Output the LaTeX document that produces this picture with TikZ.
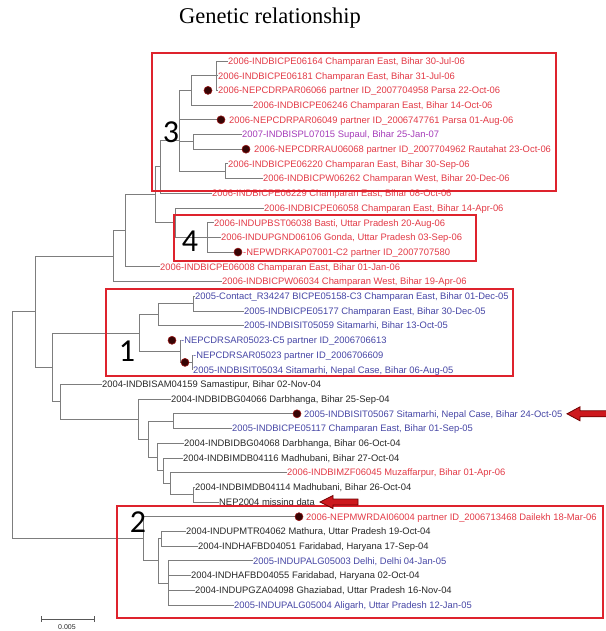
\documentclass[tikz,border=0pt]{standalone}
\usepackage{fontspec}
\usetikzlibrary{calc}
\setmainfont{Liberation Serif}
\newfontfamily\lblfont{Liberation Sans}
\newfontfamily\bignumfont{Carlito}
\definecolor{txr}{RGB}{226,58,70}
\definecolor{txb}{RGB}{70,70,165}
\definecolor{txp}{RGB}{165,60,185}
\definecolor{txk}{RGB}{40,40,40}
\definecolor{treegray}{RGB}{125,125,125}
\definecolor{boxred}{RGB}{222,35,45}
\definecolor{dotc}{RGB}{55,5,5}
\definecolor{dotr}{RGB}{150,20,20}
\definecolor{arrfill}{RGB}{205,25,30}
\definecolor{arrline}{RGB}{110,0,0}
\begin{document}
\begin{tikzpicture}[x=1pt,y=-1pt,
  br/.style={draw=treegray,line width=0.8pt},
  lbl/.style={anchor=west,inner sep=0pt,text height=6.7pt,text depth=0pt,font={\lblfont\fontsize{9.4}{11}\selectfont}},
  lr/.style={lbl,text=txr},
  lb/.style={lbl,text=txb},
  lp/.style={lbl,text=txp},
  lk/.style={lbl,text=txk},
  dotm/.style={circle,fill=dotc,draw=dotr,line width=0.6pt,minimum size=8pt,inner sep=0pt},
  cbox/.style={draw=boxred,line width=2pt},
  cnum/.style={font={\bignumfont\fontsize{32}{32}\selectfont},text=black,inner sep=0pt},
  redarrow/.style={fill=arrfill,draw=arrline,line width=0.8pt,line join=miter},
  sbar/.style={draw=treegray!70!black,line width=0.8pt}]
\useasboundingbox (0,0) rectangle (605,631);

% title
\node[font={\fontsize{22.5}{24}\selectfont}] (title) at (270,18) {Genetic relationship};

% leaves
\node[lr] (L1) at (228,61) {2006-INDBICPE06164 Champaran East, Bihar 30-Jul-06};
\node[lr] (L2) at (218,75.7) {2006-INDBICPE06181 Champaran East, Bihar 31-Jul-06};
\node[lr] (L3) at (218,90.4) {2006-NEPCDRPAR06066 partner ID\_2007704958 Parsa 22-Oct-06};
\node[lr] (L4) at (253,105.1) {2006-INDBICPE06246 Champaran East, Bihar 14-Oct-06};
\node[lr] (L5) at (229,119.8) {2006-NEPCDRPAR06049 partner ID\_2006747761 Parsa 01-Aug-06};
\node[lp] (L6) at (242,134.5) {2007-INDBISPL07015 Supaul, Bihar 25-Jan-07};
\node[lr] (L7) at (254,149.2) {2006-NEPCDRRAU06068 partner ID\_2007704962 Rautahat 23-Oct-06};
\node[lr] (L8) at (228,163.9) {2006-INDBICPE06220 Champaran East, Bihar 30-Sep-06};
\node[lr] (L9) at (263,178.6) {2006-INDBICPW06262 Champaran West, Bihar 20-Dec-06};
\node[lr] (L10) at (212,193.3) {2006-INDBICPE06229 Champaran East, Bihar 08-Oct-06};
\node[lr] (L11) at (264,208) {2006-INDBICPE06058 Champaran East, Bihar 14-Apr-06};
\node[lr] (L12) at (214,222.7) {2006-INDUPBST06038 Basti, Uttar Pradesh 20-Aug-06};
\node[lr] (L13) at (221,237.4) {2006-INDUPGND06106 Gonda, Uttar Pradesh 03-Sep-06};
\node[lr] (L14) at (243,252.1) {-NEPWDRKAP07001-C2 partner ID\_2007707580};
\node[lr] (L15) at (160,266.8) {2006-INDBICPE06008 Champaran East, Bihar 01-Jan-06};
\node[lr] (L16) at (222,281.5) {2006-INDBICPW06034 Champaran West, Bihar 19-Apr-06};
\node[lb] (L17) at (195,296.2) {2005-Contact\_R34247 BICPE05158-C3 Champaran East, Bihar 01-Dec-05};
\node[lb] (L18) at (244,310.9) {2005-INDBICPE05177 Champaran East, Bihar 30-Dec-05};
\node[lb] (L19) at (244,325.6) {2005-INDBISIT05059 Sitamarhi, Bihar 13-Oct-05};
\node[lb] (L20) at (181,340.3) {-NEPCDRSAR05023-C5 partner ID\_2006706613};
\node[lb] (L21) at (193,355) {-NEPCDRSAR05023 partner ID\_2006706609};
\node[lb] (L22) at (193,369.7) {2005-INDBISIT05034 Sitamarhi, Nepal Case, Bihar 06-Aug-05};
\node[lk] (L23) at (102,384.4) {2004-INDBISAM04159 Samastipur, Bihar 02-Nov-04};
\node[lk] (L24) at (171,399.1) {2004-INDBIDBG04066 Darbhanga, Bihar 25-Sep-04};
\node[lb] (L25) at (304,413.8) {2005-INDBISIT05067 Sitamarhi, Nepal Case, Bihar 24-Oct-05};
\node[lb] (L26) at (232,428.5) {2005-INDBICPE05117 Champaran East, Bihar 01-Sep-05};
\node[lk] (L27) at (184,443.2) {2004-INDBIDBG04068 Darbhanga, Bihar 06-Oct-04};
\node[lk] (L28) at (183,457.9) {2004-INDBIMDB04116 Madhubani, Bihar 27-Oct-04};
\node[lr] (L29) at (287,472.6) {2006-INDBIMZF06045 Muzaffarpur, Bihar 01-Apr-06};
\node[lk] (L30) at (195,487.3) {2004-INDBIMDB04114 Madhubani, Bihar 26-Oct-04};
\node[lk] (L31) at (219,502) {NEP2004 missing data};
\node[lr] (L32) at (306,516.7) {2006-NEPMWRDAI06004 partner ID\_2006713468 Dailekh 18-Mar-06};
\node[lk] (L33) at (186,531.4) {2004-INDUPMTR04062 Mathura, Uttar Pradesh 19-Oct-04};
\node[lk] (L34) at (198,546.1) {2004-INDHAFBD04051 Faridabad, Haryana 17-Sep-04};
\node[lb] (L35) at (253,560.8) {2005-INDUPALG05003 Delhi, Delhi 04-Jan-05};
\node[lk] (L36) at (191,575.5) {2004-INDHAFBD04055 Faridabad, Haryana 02-Oct-04};
\node[lk] (L37) at (195,590.2) {2004-INDUPGZA04098 Ghaziabad, Uttar Pradesh 16-Nov-04};
\node[lb] (L38) at (234,604.9) {2005-INDUPALG05004 Aligarh, Uttar Pradesh 12-Jan-05};

% dot marker positions
\coordinate (D3) at (208,90.4);
\coordinate (D5) at (221,119.8);
\coordinate (D7) at (246,149.2);
\coordinate (D14) at (238,252.1);
\coordinate (D20) at (172,340.3);
\coordinate (D22) at (185,362.4);
\coordinate (D25) at (297,413.8);
\coordinate (D32) at (299,516.7);

% internal nodes
\coordinate (A) at (216,75.7);
\coordinate (B) at (191,90.4);
\coordinate (D) at (193,141.9);
\coordinate (F) at (225,171.2);
\coordinate (C) at (179,140);
\coordinate (P) at (160,166.7);
\coordinate (H) at (207,237.4);
\coordinate (G) at (175,222.7);
\coordinate (Q) at (155,194.7);
\coordinate (N6) at (125,230.8);
\coordinate (N5) at (113,256.1);
\coordinate (K4) at (193,303.5);
\coordinate (K2) at (158,314.6);
\coordinate (K5) at (192,362.4);
\coordinate (K3) at (180,351.3);
\coordinate (K1) at (139,333);
\coordinate (M7) at (193,494.6);
\coordinate (M6) at (170,483.6);
\coordinate (M5) at (163,470.8);
\coordinate (M4) at (157,457);
\coordinate (M3) at (173,421.2);
\coordinate (M2) at (148,439.1);
\coordinate (M1) at (138,419.1);
\coordinate (N3) at (60,401.8);
\coordinate (N2) at (52,367.4);
\coordinate (N1) at (35,311.8);
\coordinate (T3) at (161,538.8);
\coordinate (T4) at (168,582.9);
\coordinate (T2) at (158,560.8);
\coordinate (T1) at (143,538.8);
\coordinate (R0) at (12,425);

% branches
\foreach \p/\c in {A/L1,A/L2,A/L3,B/A,B/L4,D/L6,D/D7,F/L8,F/L9,
  C/B,C/D5,C/D,C/F,P/C,P/L10,H/L12,H/L13,H/D14,G/L11,G/H,Q/P,Q/G,
  N6/Q,N6/L15,N5/N6,N5/L16,K4/L17,K4/L18,K2/K4,K2/L19,K5/L21,K5/L22,
  K3/L20,K3/K5,K1/K2,K1/K3,M7/L30,M7/L31,M6/L29,M6/M7,M5/L28,M5/M6,
  M4/L27,M4/M5,M3/D25,M3/L26,M2/M3,M2/M4,M1/L24,M1/M2,N3/L23,N3/M1,
  N2/K1,N2/N3,N1/N5,N1/N2,T3/L33,T3/L34,T4/L35,T4/L36,T4/L37,T4/L38,
  T2/T3,T2/T4,T1/D32,T1/T2,R0/N1,R0/T1}
  \draw[br] (\p) |- (\c);

% dots on top of branches
\foreach \d in {D3,D5,D7,D14,D20,D22,D25,D32}
  \node[dotm] (m\d) at (\d) {};

% cluster boxes
\draw[cbox] (152,53) rectangle (556,191);
\draw[cbox] (174,215) rectangle (476,261);
\draw[cbox] (106,289) rectangle (513,376);
\draw[cbox] (117,506) rectangle (603,618);

% cluster numbers
\node[cnum] (n3) at (171,132) {3};
\node[cnum] (n4) at (190,241) {4};
\node[cnum] (n1) at (127,351) {1};
\node[cnum] (n2) at (138,522) {2};

% red arrows
\coordinate (a1) at (567,413.8);
\draw[redarrow] (a1) -- (580,406.8) -- (580,410.8) -- (607,410.8) -- (607,416.8) -- (580,416.8) -- (580,420.8) -- cycle;
\coordinate (a2) at (320,502);
\draw[redarrow] (a2) -- (333,495.5) -- (333,499) -- (358,499) -- (358,505) -- (333,505) -- (333,508.5) -- cycle;

% scale bar
\coordinate (s1) at (41,619);
\coordinate (s2) at (94,619);
\draw[sbar] (s1) -- (s2);
\draw[sbar] ($(s1)+(0,-3)$) -- ($(s1)+(0,3)$);
\draw[sbar] ($(s2)+(0,-3)$) -- ($(s2)+(0,3)$);
\node[font={\lblfont\fontsize{7}{8}\selectfont},text=txk,inner sep=0pt] (slabel) at (67,627.5) {0.005};
\end{tikzpicture}
\end{document}
